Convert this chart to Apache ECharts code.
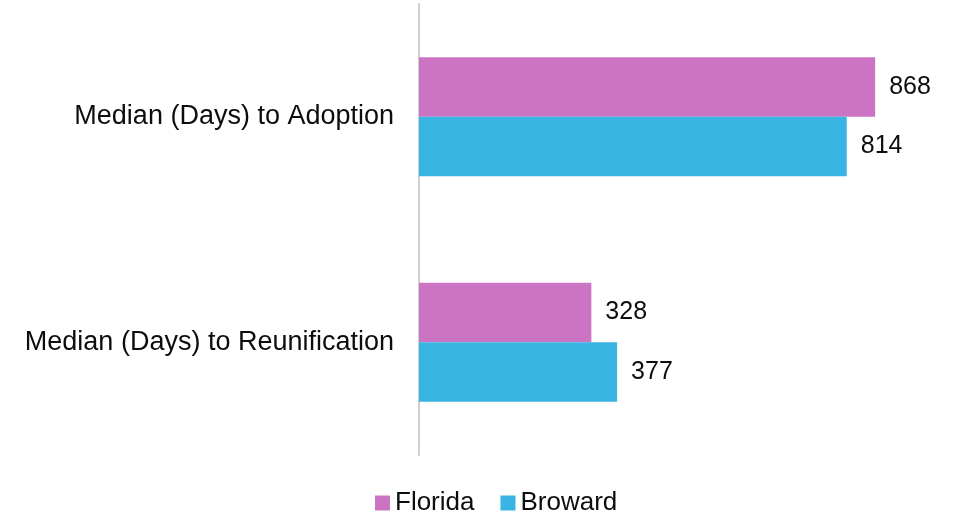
<!DOCTYPE html>
<html>
<head>
<meta charset="utf-8">
<script src="https://cdn.jsdelivr.net/npm/echarts@6/dist/echarts.min.js"></script>
<style>
  html, body { margin: 0; padding: 0; background: #fff; }
  #chart { width: 953px; height: 515px; }
</style>
</head>
<body>
<div id="chart"></div>
<script>
// categories top to bottom
var categories = ['Median (Days) to Adoption', 'Median (Days) to Reunification'];
var seriesNames = ['Florida', 'Broward'];
var florida = [868, 328];
var broward = [814, 377];

var myChart = echarts.init(document.getElementById('chart'));

var labelStyle = {
    show: true,
    position: 'right',
    distance: 14,
    fontFamily: 'Liberation Sans',
    fontSize: 25,
    color: '#0d0d0d'
};

var option = {
    animation: false,
    color: ['#CC74C4', '#38B5E3'],
    grid: { left: 419, top: 4, bottom: 60, right: 8.5, containLabel: false },
    legend: {
        data: seriesNames,
        left: 370,
        top: 485,
        itemWidth: 15,
        itemHeight: 15,
        itemGap: 26,
        icon: 'rect',
        textStyle: {
            fontFamily: 'Liberation Sans',
            fontSize: 26,
            color: '#0d0d0d'
        }
    },
    xAxis: {
        type: 'value',
        min: 0,
        max: 1000,
        show: false
    },
    yAxis: {
        type: 'category',
        inverse: true,
        data: categories,
        axisLine: { show: true, lineStyle: { color: '#D0D0D0', width: 2 } },
        axisTick: { show: false },
        axisLabel: {
            margin: 25,
            fontFamily: 'Liberation Sans',
            fontSize: 27,
            color: '#0d0d0d'
        }
    },
    series: [
        {
            name: seriesNames[0],
            type: 'bar',
            data: florida,
            barWidth: 59.5,
            barGap: '0%',
            label: labelStyle
        },
        {
            name: seriesNames[1],
            type: 'bar',
            data: broward,
            barWidth: 59.5,
            barGap: '0%',
            label: labelStyle
        }
    ]
};

myChart.setOption(option);
</script>
</body>
</html>
